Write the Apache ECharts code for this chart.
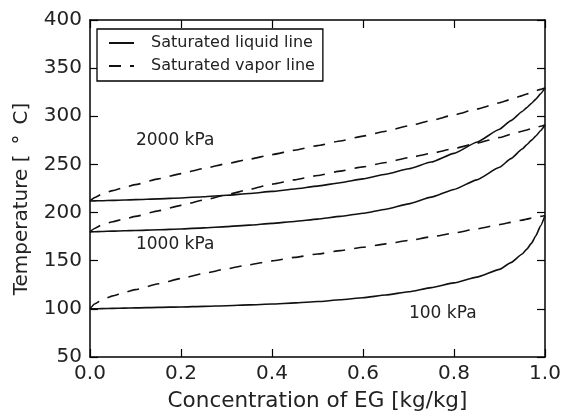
<!DOCTYPE html>
<html>
<head>
<meta charset="utf-8">
<script src="https://cdn.jsdelivr.net/npm/echarts@6/dist/echarts.min.js"></script>
<style>
html,body{margin:0;padding:0;background:#fff;}
#chart{width:564px;height:417px;}
</style>
</head>
<body>
<div id="chart"></div>
<script>
// Concentration of EG [kg/kg]
var conc = [0, 0.01, 0.025, 0.05, 0.075, 0.1, 0.15, 0.2, 0.25, 0.3, 0.35, 0.4, 0.45, 0.5, 0.55, 0.6, 0.65, 0.7, 0.75, 0.8, 0.85, 0.9, 0.925, 0.95, 0.96, 0.97, 0.98, 0.99, 1.0];

// Temperatures [°C]
var liquid100  = [100, 100.1, 100.25, 100.5, 100.75, 101, 101.5, 102, 102.6, 103.3, 104.1, 105, 106.2, 107.6, 109.4, 111.6, 114.4, 117.8, 122, 127, 133, 141, 148, 157, 162, 168, 176, 186, 197];
var vapor100   = [100, 105, 109, 113.5, 117, 120, 126, 131.5, 136.8, 141.5, 145.8, 149.8, 153.5, 157, 160.5, 164, 167.5, 171, 174.8, 178.8, 183, 187.5, 189.8, 192.2, 193.2, 194.2, 195.2, 196.1, 197];
var liquid1000 = [180, 180.1, 180.35, 180.7, 181.05, 181.4, 182.1, 183, 184.1, 185.4, 187, 188.8, 190.8, 193.2, 196, 199.3, 203.5, 209, 216, 224, 234, 247, 256, 266, 270.5, 275, 279.5, 285, 291];
var vapor1000  = [180, 183.5, 187, 190.5, 193.3, 196, 201.8, 207.5, 213, 218.5, 224, 229.5, 234, 238.5, 243, 247.5, 252, 257, 261.5, 266.5, 272, 278, 281.2, 284.5, 285.8, 287.1, 288.4, 289.7, 291];
var liquid2000 = [212, 212.15, 212.35, 212.7, 213.05, 213.4, 214.2, 215.2, 216.5, 218, 219.8, 222, 224.5, 227.5, 231, 235, 239.8, 245.5, 252.5, 261.5, 273, 286.5, 295.5, 305, 309, 313.3, 317.8, 323.3, 329.5];
var vapor2000  = [212, 215.5, 219, 222.8, 226, 229, 235, 240.5, 245.8, 250.8, 255.5, 260.2, 264.8, 269.5, 274.4, 279.4, 284.5, 290, 295.6, 301.5, 307.5, 314, 317.6, 321.5, 323.1, 324.8, 326.5, 328, 329.5];

var legendNames = ['Saturated liquid line', 'Saturated vapor line'];
var pressureLabels = ['2000 kPa', '1000 kPa', '100 kPa'];
var xTicks = {min: 0, max: 1, interval: 0.2};
var yTicks = {min: 50, max: 400, interval: 50};

function pairs(ys) { return conc.map(function (c, i) { return [c, ys[i]]; }); }

var LINE = '#111';
var TEXT = '#222';
var FONT = 'DejaVu Sans';
var DASH = [12, 9];

function mk(name, ys, dashed) {
  return {
    type: 'line', name: name, data: pairs(ys),
    symbol: 'none', smooth: 0.15, smoothMonotone: 'x',
    xAxisIndex: 0, yAxisIndex: 0,
    lineStyle: {color: LINE, width: 1.6, type: dashed ? DASH : 'solid'},
    itemStyle: {color: LINE},
    emphasis: {disabled: true}, animation: false
  };
}

var axisCommon = {
  axisLine: {show: true, onZero: false, lineStyle: {color: '#000', width: 1.5}},
  axisTick: {show: true, inside: true, length: 8, lineStyle: {color: '#000', width: 1.2}},
  splitLine: {show: false}
};

var chart = echarts.init(document.getElementById('chart'), null, {renderer: 'canvas'});
var option = {
  backgroundColor: '#fff',
  animation: false,
  textStyle: {fontFamily: FONT},
  grid: {left: 90, right: 19, top: 20, bottom: 58, containLabel: false},
  legend: {
    data: legendNames,
    orient: 'vertical',
    left: 97, top: 29,
    backgroundColor: '#fff',
    borderColor: '#000', borderWidth: 1.3, borderRadius: 0,
    padding: [6, 8, 7, 11],
    itemWidth: 25, itemHeight: 14, itemGap: 7,
    selectedMode: false,
    itemStyle: {opacity: 0, borderWidth: 0},
    textStyle: {fontFamily: FONT, fontSize: 16, color: TEXT, lineHeight: 16, padding: [0, 0, 0, 12]}
  },
  xAxis: [
    Object.assign({
      type: 'value', position: 'bottom', min: xTicks.min, max: xTicks.max, interval: xTicks.interval,
      name: 'Concentration of EG [kg/kg]', nameLocation: 'middle', nameGap: 33,
      nameTextStyle: {fontFamily: FONT, fontSize: 21.5, color: TEXT},
      axisLabel: {fontFamily: FONT, fontSize: 20, color: TEXT, margin: 7,
        formatter: function (v) { return v.toFixed(1); }}
    }, axisCommon),
    Object.assign({
      type: 'value', position: 'top', min: xTicks.min, max: xTicks.max, interval: xTicks.interval,
      axisLabel: {show: false}
    }, axisCommon)
  ],
  yAxis: [
    Object.assign({
      type: 'value', position: 'left', min: yTicks.min, max: yTicks.max, interval: yTicks.interval,
      name: 'Temperature [\u2002\u00B0\u2002C]', nameLocation: 'middle', nameGap: 58,
      nameTextStyle: {fontFamily: FONT, fontSize: 20, color: TEXT, padding: [0, 21, 0, 0]},
      axisLabel: {fontFamily: FONT, fontSize: 20, color: TEXT, margin: 8}
    }, axisCommon),
    Object.assign({
      type: 'value', position: 'right', min: yTicks.min, max: yTicks.max, interval: yTicks.interval,
      axisLabel: {show: false}
    }, axisCommon)
  ],
  series: [
    mk(legendNames[0], liquid2000, false),
    mk(legendNames[1], vapor2000, true),
    mk(legendNames[0], liquid1000, false),
    mk(legendNames[1], vapor1000, true),
    mk(legendNames[0], liquid100, false),
    mk(legendNames[1], vapor100, true)
  ]
};
chart.setOption(option);

// pressure annotations placed in data coordinates
var annPos = [[0.101, 275], [0.101, 166.5], [0.701, 95.5]];
var graphics = pressureLabels.map(function (t, i) {
  var p = chart.convertToPixel({xAxisIndex: 0, yAxisIndex: 0}, annPos[i]);
  return {
    type: 'text', x: p[0], y: p[1], silent: true,
    style: {text: t, fill: TEXT, fontFamily: FONT, fontSize: 17, textAlign: 'left', textVerticalAlign: 'middle'}
  };
});
chart.setOption({graphic: graphics});
</script>
</body>
</html>
